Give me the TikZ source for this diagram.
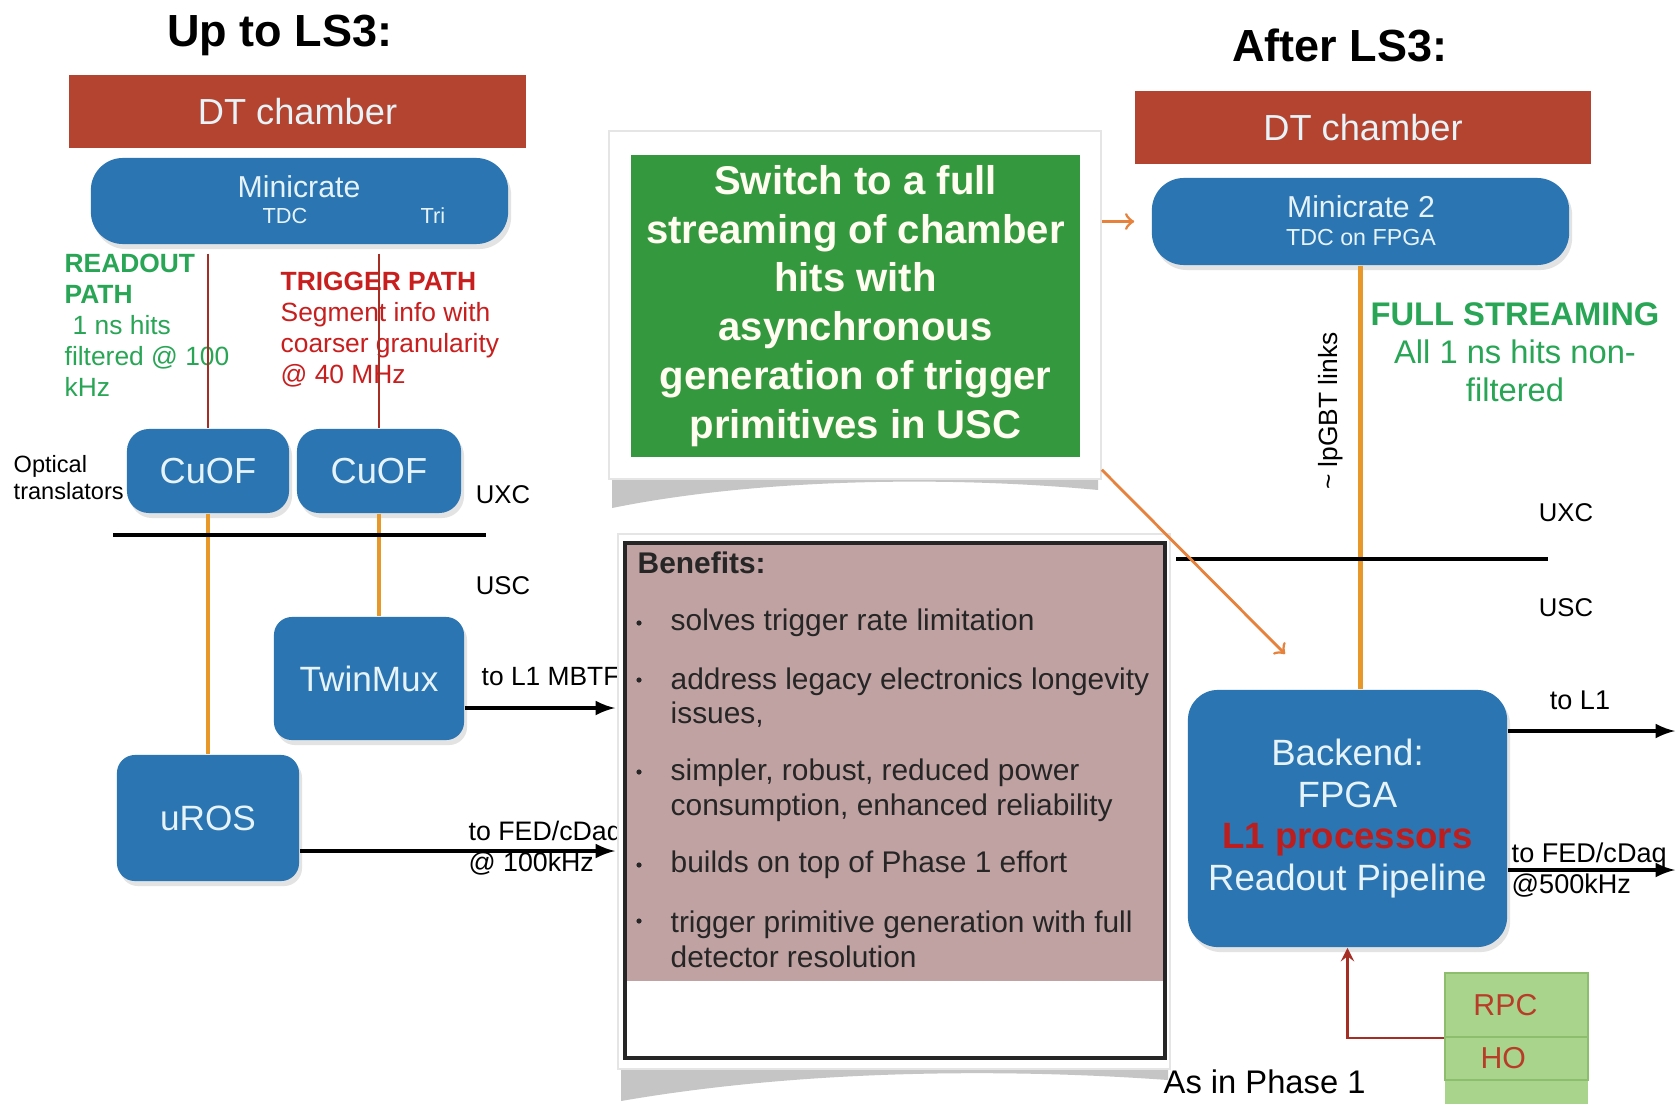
\documentclass[tikz,border=0pt]{standalone}
\usepackage{fontspec}
\setmainfont{Liberation Sans}
\usepackage{tikz}
\usetikzlibrary{arrows,shadows}
\definecolor{dtred}{RGB}{180,68,48}
\definecolor{boxblue}{RGB}{42,117,178}
\definecolor{boxtxt}{RGB}{230,243,248}
\definecolor{fiber}{RGB}{232,152,40}
\definecolor{pointer}{RGB}{230,130,60}
\definecolor{copper}{RGB}{165,45,35}
\definecolor{rogreen}{RGB}{40,165,85}
\definecolor{trred}{RGB}{200,30,30}
\definecolor{panelgreen}{RGB}{52,152,62}
\definecolor{mauve}{RGB}{193,162,162}
\definecolor{rpcgreen}{RGB}{168,212,140}
\definecolor{rpcedge}{RGB}{140,190,110}
\definecolor{rpctxt}{RGB}{185,60,40}
\newcommand{\fs}[2]{\fontsize{#1}{#2}\selectfont}

\begin{document}
\begin{tikzpicture}[x=0.01cm,y=-0.01cm,
    title/.style={inner sep=0pt, font=\bfseries\fs{12.8}{15}},
    dtbox/.style={fill=dtred, text=boxtxt, inner sep=0pt, font=\fs{10.3}{12}},
    bluebox/.style={fill=boxblue, text=boxtxt, inner sep=0pt,
        drop shadow={opacity=0.22, shadow xshift=0.03cm, shadow yshift=-0.05cm}},
    boxlbl/.style={text=boxtxt, inner sep=0pt},
    lbl/.style={inner sep=0pt, font=\fs{7.5}{8.8}},
    zone/.style={inner sep=0pt, font=\fs{7.3}{9}},
    fiberln/.style={fiber, line width=1.4pt},
    copperln/.style={copper, line width=0.7pt},
    wall/.style={black, line width=0.9pt},
    outarrow/.style={-latex, black, line width=0.9pt},
    frame/.style={fill=white, draw=gray!20, inner sep=0pt},
    bullettxt/.style={anchor=west, align=left, inner sep=0pt, text=black!85, font=\fs{8.5}{9.9}},
    rpcbox/.style={fill=rpcgreen, draw=rpcedge, text=rpctxt, inner sep=0pt, minimum width=1.43cm,
        font=\fs{8.6}{10}, text width=1.1cm, align=left}
]
    \fill[white] (0,0) rectangle (1676,1103);
    \useasboundingbox (0,0) rectangle (1676,1103);

    % --- LEFT: UP TO LS3 ---
    \node[title] (titleL) at (280,35) {Up to LS3:};
    \node[dtbox, minimum width=4.57cm, minimum height=0.73cm] (dtL) at (297.5,111.5) {DT chamber};
    \node[bluebox, rounded corners=0.32cm, minimum width=4.17cm, minimum height=0.86cm] (miniL) at (299.5,201) {};
    \node[boxlbl, font=\fs{8.6}{10}] (miniLt) at (299,187) {Minicrate};
    \node[boxlbl, font=\fs{6.2}{7}] (tdcL) at (285,216) {TDC};
    \node[boxlbl, font=\fs{6.2}{7}] (triL) at (433,216) {Tri};

    \node[lbl, anchor=west, align=left, text=rogreen] (readout) at (64,325) {\textbf{READOUT}\\\textbf{PATH}\\\hspace*{0.08cm}1 ns hits\\filtered @ 100\\kHz};
    \node[lbl, anchor=west, align=left, text=trred] (trigger) at (280,330) {\textbf{TRIGGER PATH}\\Segment info with\\coarser granularity\\@ 40 MHz};

    \node[bluebox, rounded corners=0.22cm, minimum width=1.62cm, minimum height=0.84cm, font=\fs{10.3}{12}] (cuofA) at (208,471) {CuOF};
    \node[bluebox, rounded corners=0.22cm, minimum width=1.64cm, minimum height=0.84cm, font=\fs{10.3}{12}] (cuofB) at (379,471) {CuOF};
    \node[inner sep=0pt, anchor=west, align=left, font=\fs{6.7}{7.7}] (optical) at (13,478) {Optical\\translators};
    \draw[copperln] ([yshift=-0.09cm]cuofA.north |- miniL.south) -- (cuofA.north);
    \draw[copperln] ([yshift=-0.09cm]cuofB.north |- miniL.south) -- (cuofB.north);

    \node[zone] (uxcL) at (503,495) {UXC};
    \node[zone] (uscL) at (503,586) {USC};
    \coordinate (wallLa) at (113,535);
    \coordinate (wallLb) at (486,535);

    \node[bluebox, rounded corners=0.18cm, minimum width=1.9cm, minimum height=1.23cm, font=\fs{10}{12}] (twinmux) at (369,678.5) {TwinMux};
    \node[bluebox, rounded corners=0.18cm, minimum width=1.82cm, minimum height=1.26cm, font=\fs{10}{12}] (uros) at (208,818) {uROS};
    \draw[fiberln] (cuofA.south) -- (uros.north);
    \draw[fiberln] (cuofB.south) -- (cuofB.south |- twinmux.north);
    \draw[wall] (wallLa) -- (wallLb);

    \coordinate (toMBTF) at (615,708);
    \coordinate (toFEDL) at (615,851);
    \node[lbl, anchor=west] (mbtf) at (481,677) {to L1 MBTF};
    \node[lbl, anchor=west, align=left, font=\fs{7.6}{8.8}] (fedL) at (468,848) {to FED/cDaq\\@ 100kHz};
    \draw[outarrow] (twinmux.east |- toMBTF) -- (toMBTF);
    \draw[outarrow] (uros.east |- toFEDL) -- (toFEDL);

    % --- MIDDLE: MESSAGE AND BENEFITS ---
    \fill[gray!75, opacity=0.6] (612,472) -- (1098,472) -- (1098,490) .. controls (950,476) and (760,478) .. (612,508) -- cycle;
    \node[frame, minimum width=4.92cm, minimum height=3.48cm] (gframe) at (855,305) {};
    \node[fill=panelgreen, text=white!94!yellow, inner sep=0pt, minimum width=4.49cm, minimum height=3.02cm,
        align=center, font=\bfseries\fs{11.4}{13.9}] (switch) at (855.5,306)
        {Switch to a full\\streaming of chamber\\hits with\\asynchronous\\generation of trigger\\primitives in USC};

    \fill[gray!75, opacity=0.6] (621,1062) -- (1168,1062) -- (1168,1080) .. controls (1000,1068) and (800,1070) .. (621,1101) -- cycle;
    \node[frame, minimum width=5.52cm, minimum height=5.35cm] (bframe) at (894,801.5) {};
    \fill[mauve] (625,543) rectangle (1165,981);
    \draw[black!85, line width=1.2pt] (625,543) rectangle (1165,1058);
    \node[inner sep=0pt, anchor=west, font=\bfseries\fs{8.5}{10}, text=black!85] (benefits) at (637,563) {Benefits:};
    \foreach \y in {623,680,772,865,921}
        \fill[black!85] (639,\y) circle (2.6);
    \node[bullettxt] (ben1) at (670,623) {solves trigger rate limitation};
    \node[bullettxt] (ben2) at (670,697.5) {address legacy electronics longevity\\issues,};
    \node[bullettxt] (ben3) at (670,790) {simpler, robust, reduced power\\consumption, enhanced reliability};
    \node[bullettxt] (ben4) at (670,865) {builds on top of Phase 1 effort};
    \node[bullettxt] (ben5) at (670,939.5) {trigger primitive generation with full\\detector resolution};

    % --- RIGHT: AFTER LS3 ---
    \node[title] (titleR) at (1340,45) {After LS3:};
    \node[dtbox, minimum width=4.56cm, minimum height=0.73cm] (dtR) at (1363,127.5) {DT chamber};
    \node[bluebox, rounded corners=0.32cm, minimum width=4.17cm, minimum height=0.87cm] (mini2) at (1360.5,221.5) {};
    \node[boxlbl, font=\fs{8.6}{10}] (mini2t) at (1361,207) {Minicrate 2};
    \node[boxlbl, font=\fs{6.6}{7.5}] (tdc2) at (1361,238) {TDC on FPGA};

    \node[inner sep=0pt, align=center, text=rogreen, font=\fs{9.3}{10.8}] (streaming) at (1515,352) {\textbf{FULL STREAMING}\\All 1 ns hits non-\\filtered};
    \node[lbl, rotate=90] (lpgbt) at (1331,411) {\textasciitilde{} lpGBT links};

    \node[zone] (uxcR) at (1566,513) {UXC};
    \node[zone] (uscR) at (1566,608) {USC};
    \coordinate (wallRa) at (1176,559);
    \coordinate (wallRb) at (1548,559);

    \node[bluebox, rounded corners=0.3cm, minimum width=3.19cm, minimum height=2.57cm,
        align=center, font=\fs{10.4}{11.9}] (backend) at (1347.5,818.5)
        {Backend:\\FPGA\\\textcolor{trred!95!black}{\bfseries L1 processors}\\Readout Pipeline};
    \draw[fiberln] (mini2.south) -- (mini2.south |- backend.north);
    \draw[wall] (wallRa) -- (wallRb);

    \draw[pointer, line width=0.8pt, ->, shorten >=0.17cm] (gframe.east |- mini2.west) -- (mini2.west);
    \coordinate (diagEnd) at (1285,654);
    \draw[pointer, line width=0.8pt, ->] ([yshift=0.1cm]gframe.south east) -- (diagEnd);

    \coordinate (toL1R) at (1675,731);
    \coordinate (toFEDR) at (1675,870);
    \node[lbl, font=\fs{7.7}{9}] (l1R) at (1580,700) {to L1};
    \node[lbl, anchor=west, align=left, font=\fs{7.7}{8.8}] (fedR) at (1511,870) {to FED/cDaq\\@500kHz};
    \draw[outarrow] (backend.east |- toL1R) -- (toL1R);
    \draw[outarrow] (backend.east |- toFEDR) -- (toFEDR);

    \node[rpcbox, minimum height=0.64cm] (rpc) at (1516.5,1005) {\hspace*{0.12cm}RPC};
    \node[rpcbox, minimum height=0.43cm] (ho) at (1516.5,1058.5) {\hspace*{0.19cm}HO};
    \fill[rpcgreen] ([xshift=0.2pt]ho.south west) rectangle ([xshift=-0.2pt,yshift=-0.3cm]ho.south east);
    \draw[copperln, -stealth] (rpc.south west) -| (backend.south);
    \node[inner sep=0pt, anchor=west, font=\fs{9.3}{11}] (phase1) at (1163,1082) {As in Phase 1};
\end{tikzpicture}
\end{document}
